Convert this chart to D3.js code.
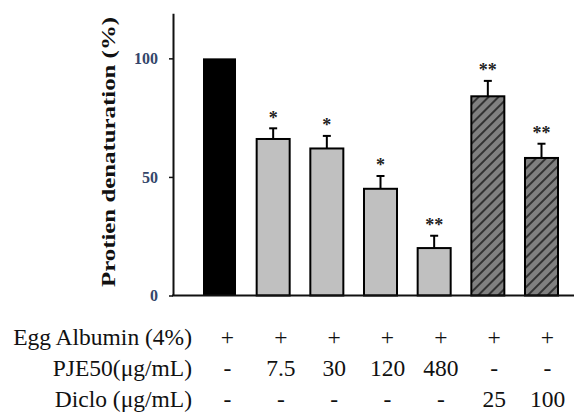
<!DOCTYPE html>
<html>
<head>
<meta charset="utf-8">
<script src="https://cdn.jsdelivr.net/npm/d3@7"></script>
<style>
  html, body { margin: 0; padding: 0; background: #fff; }
  svg { display: block; }
</style>
</head>
<body>
<svg id="chart" width="574" height="413"></svg>
<script>
// Treatment groups (one bar each)
const groups = ["control", "pje7.5", "pje30", "pje120", "pje480", "diclo25", "diclo100"];
const groupKinds = ["control", "extract", "extract", "extract", "extract", "drug", "drug"];
// Protein denaturation (%) and its standard error
const denaturation = [100, 66, 62, 45, 20, 84, 58];
const errorValues = [0, 4.5, 5.3, 5.4, 5.2, 6.5, 6];
const significance = ["", "*", "*", "*", "**", "**", "**"];
const yTicks = [0, 50, 100];

// Treatment table under the bars
const rowLabels = ["Egg Albumin (4%)", "PJE50(\u03bcg/mL)", "Diclo (\u03bcg/mL)"];
const eggAlbuminRow = ["+", "+", "+", "+", "+", "+", "+"];
const pje50Row = ["-", "7.5", "30", "120", "480", "-", "-"];
const dicloRow = ["-", "-", "-", "-", "-", "25", "100"];
const tableRows = [eggAlbuminRow, pje50Row, dicloRow];

const W = 574, H = 413;
const svg = d3.select("#chart");

const axisX = 173;
const y = d3.scaleLinear().domain([0, 119]).range([295.5, 13.3]);
const x = d3.scaleBand().domain(groups).range([203, 558])
  .paddingInner(0.385).paddingOuter(0);
const col = d3.scalePoint().domain(groups).range([227.5, 547.5]);

// Hatch for the diclofenac bars
const defs = svg.append("defs");
const hatch = defs.append("pattern")
  .attr("id", "hatch")
  .attr("patternUnits", "userSpaceOnUse")
  .attr("width", 7).attr("height", 10)
  .attr("patternTransform", "rotate(45)");
hatch.append("rect").attr("width", 7).attr("height", 10).attr("fill", "#808080");
hatch.append("line").attr("x1", 1).attr("x2", 1).attr("y1", 0).attr("y2", 10)
  .attr("stroke", "#111").attr("stroke-width", 1.4);

const fillFor = { control: "#000", extract: "#c0c0c0", drug: "url(#hatch)" };

const data = groups.map((g, i) => ({
  id: g, kind: groupKinds[i], value: denaturation[i], err: errorValues[i], sig: significance[i]
}));

// Error bars (upper whisker only)
const eb = svg.append("g").attr("stroke", "#000").attr("stroke-width", 2);
data.filter(d => d.err > 0).forEach(d => {
  const cx = x(d.id) + x.bandwidth() / 2;
  eb.append("line").attr("x1", cx).attr("x2", cx)
    .attr("y1", y(d.value)).attr("y2", y(d.value + d.err));
  eb.append("line").attr("x1", cx - 4).attr("x2", cx + 4)
    .attr("y1", y(d.value + d.err)).attr("y2", y(d.value + d.err));
});

// Bars
svg.append("g").selectAll("rect").data(data).join("rect")
  .attr("x", d => x(d.id))
  .attr("y", d => y(d.value))
  .attr("width", x.bandwidth())
  .attr("height", d => y(0) - y(d.value))
  .attr("fill", d => fillFor[d.kind])
  .attr("stroke", "#000")
  .attr("stroke-width", d => d.kind === "control" ? 0 : 2);

// Significance marks
svg.append("g").selectAll("text").data(data.filter(d => d.sig)).join("text")
  .attr("x", d => x(d.id) + x.bandwidth() / 2)
  .attr("y", d => y(d.value + d.err) - 4.5)
  .attr("text-anchor", "middle")
  .attr("font-family", "'Liberation Serif', 'Times New Roman', serif")
  .attr("font-weight", "bold")
  .attr("font-size", 18)
  .attr("fill", "#222")
  .text(d => d.sig);

// Y axis
const yAxis = svg.append("g")
  .attr("transform", `translate(${axisX},0)`)
  .call(d3.axisLeft(y).tickValues(yTicks).tickSize(4).tickSizeOuter(0).tickPadding(11));
yAxis.select(".domain").attr("stroke", "#111").attr("stroke-width", 2);
yAxis.selectAll(".tick line").attr("stroke", "#111").attr("stroke-width", 1.5);
yAxis.selectAll(".tick text")
  .attr("font-family", "'Liberation Serif', 'Times New Roman', serif")
  .attr("font-weight", "bold")
  .attr("font-size", 16)
  .attr("fill", "#34466a");

// Baseline
svg.append("line")
  .attr("x1", axisX - 1).attr("x2", W)
  .attr("y1", y(0)).attr("y2", y(0))
  .attr("stroke", "#111").attr("stroke-width", 2);

// Y axis title
svg.append("text")
  .attr("transform", `translate(115,152) rotate(-90)`)
  .attr("text-anchor", "middle")
  .attr("font-family", "'Liberation Serif', 'Times New Roman', serif")
  .attr("font-weight", "bold")
  .attr("font-size", 19)
  .attr("textLength", 270)
  .attr("lengthAdjust", "spacingAndGlyphs")
  .attr("fill", "#111")
  .text("Protien denaturation (%)");

// Treatment table
const rowBaselines = [344.5, 375.5, 406.5];
const table = svg.append("g")
  .attr("font-family", "'Liberation Serif', 'Times New Roman', serif")
  .attr("font-size", 23.5)
  .attr("fill", "#111");
rowLabels.forEach((label, r) => {
  table.append("text")
    .attr("x", 192).attr("y", rowBaselines[r])
    .attr("text-anchor", "end")
    .text(label);
  table.selectAll(null).data(tableRows[r]).join("text")
    .attr("x", (d, i) => col(groups[i]))
    .attr("y", rowBaselines[r])
    .attr("text-anchor", "middle")
    .text(d => d);
});
</script>
</body>
</html>
